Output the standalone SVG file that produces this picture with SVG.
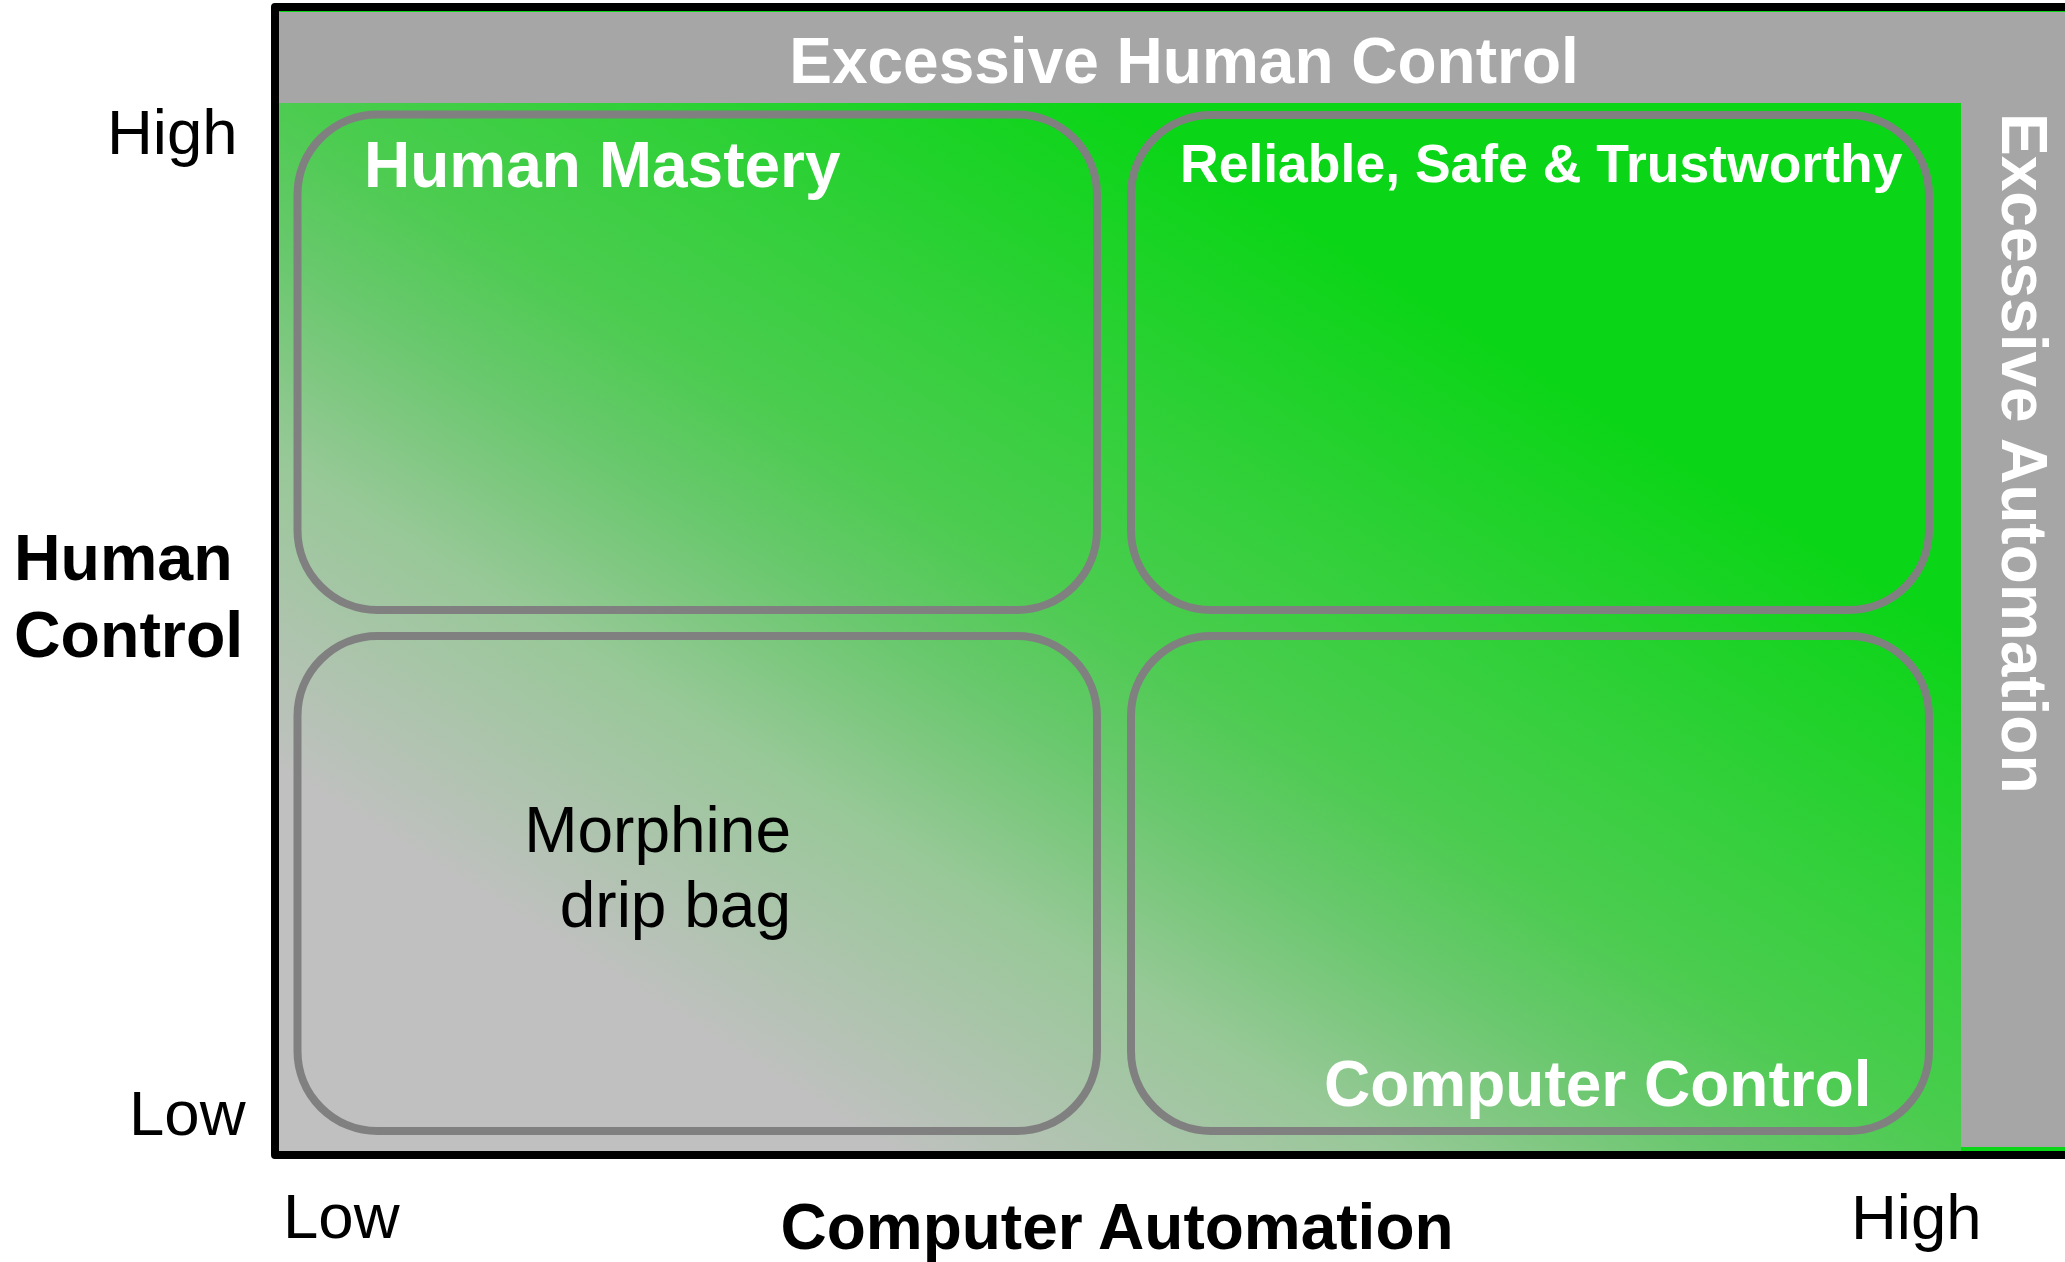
<svg xmlns="http://www.w3.org/2000/svg" width="2065" height="1262" viewBox="0 0 2065 1262">
  <style>
    .lbl { font-family: "Liberation Sans", Arial, sans-serif; }
    .b { font-weight: bold; }
    .w { fill: #ffffff; }
    .k { fill: #000000; }
    .box { fill: none; stroke: #808080; stroke-width: 8; }
    .band { fill: #a6a6a6; }
  </style>
  <defs>
    <linearGradient id="grad" x1="0" y1="1" x2="1" y2="0">
      <stop offset="0" stop-color="#c0c0c0"/>
      <stop offset="0.18" stop-color="#c0c0c0"/>
      <stop offset="0.33" stop-color="#98c898"/>
      <stop offset="0.43" stop-color="#68c86c"/>
      <stop offset="0.5" stop-color="#4ccc50"/>
      <stop offset="0.6" stop-color="#32d03a"/>
      <stop offset="0.75" stop-color="#0ad516"/>
      <stop offset="1" stop-color="#0ad516"/>
    </linearGradient>
  </defs>
  <rect x="0" y="0" width="2065" height="1262" fill="#ffffff"/>

  <g id="background">
    <rect x="279" y="11" width="1790" height="1140" fill="#0ad516"/>
    <rect x="279" y="103" width="1682" height="1048" fill="url(#grad)"/>
    <rect class="band" x="279" y="12" width="1790" height="91"/>
    <rect class="band" x="1961" y="103" width="108" height="1044"/>
    <rect x="275" y="7" width="1800" height="1148" fill="none" stroke="#000000" stroke-width="8" stroke-linejoin="round"/>
  </g>

  <g id="excessive-human-control">
    <text class="lbl b w" x="1184" y="83" font-size="64" text-anchor="middle">Excessive Human Control</text>
  </g>
  <g id="excessive-automation">
    <text class="lbl b w" x="0" y="0" font-size="64" transform="translate(2002,113) rotate(90)">Excessive Automation</text>
  </g>

  <g id="human-mastery">
    <rect class="box" x="297.5" y="114.5" width="799.5" height="495.5" rx="80" ry="80"/>
    <text class="lbl b w" x="364" y="187" font-size="64">Human Mastery</text>
  </g>
  <g id="reliable-safe-trustworthy">
    <rect class="box" x="1131" y="115" width="798" height="495" rx="80" ry="80"/>
    <text class="lbl b w" x="1180" y="182" font-size="53.5">Reliable, Safe &amp; Trustworthy</text>
  </g>
  <g id="morphine-drip-bag">
    <rect class="box" x="297.5" y="636" width="799.5" height="495" rx="80" ry="80"/>
    <text class="lbl k" font-size="64" text-anchor="end"><tspan x="791" y="852">Morphine</tspan><tspan x="791" y="927">drip bag</tspan></text>
  </g>
  <g id="computer-control">
    <rect class="box" x="1131" y="636" width="798" height="495" rx="80" ry="80"/>
    <text class="lbl b w" x="1324" y="1106" font-size="64">Computer Control</text>
  </g>

  <g id="connectors"></g>

  <g id="axis-y">
    <text class="lbl k" x="107" y="154" font-size="63.5">High</text>
    <text class="lbl b k" font-size="64.5"><tspan x="14" y="580">Human</tspan><tspan x="14" y="657">Control</tspan></text>
    <text class="lbl k" x="129" y="1135" font-size="63.5">Low</text>
  </g>
  <g id="axis-x">
    <text class="lbl k" x="283" y="1238" font-size="63.5">Low</text>
    <text class="lbl b k" x="1117" y="1249" font-size="64" text-anchor="middle">Computer Automation</text>
    <text class="lbl k" x="1851" y="1239" font-size="63.5">High</text>
  </g>
</svg>
